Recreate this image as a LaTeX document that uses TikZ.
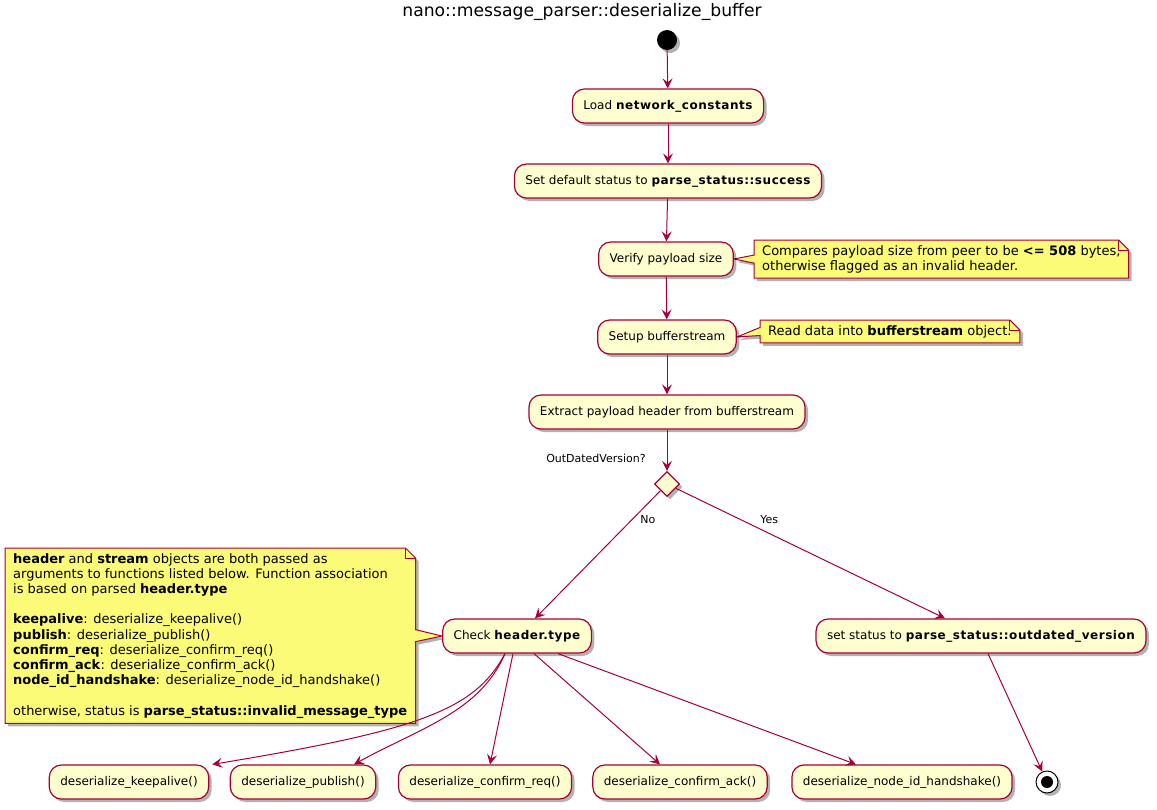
\documentclass[tikz,border=0pt]{standalone}
\usepackage{fontspec}
\setmainfont{DejaVu Sans}
\usetikzlibrary{shapes.geometric,shadows,arrows.meta,backgrounds}

\definecolor{umlred}{HTML}{A80036}
\definecolor{umlfill}{HTML}{FEFECE}
\definecolor{notefill}{HTML}{FBFB77}

% bold inside the step boxes runs a little wider
\newcommand{\stepbf}[1]{{\bfseries\addfontfeature{LetterSpace=4.5}#1}}

\tikzset{
  umlshadow/.style={drop shadow={shadow xshift=3pt, shadow yshift=-3pt, opacity=0.3, fill=black}},
  act/.style={draw=umlred, fill=umlfill, line width=1.2pt, rounded corners=12pt,
    minimum height=34pt, inner xsep=11pt, font=\fontsize{12}{14}\selectfont, umlshadow},
  notetext/.style={inner xsep=8pt, inner ysep=5pt, align=left, font=\fontsize{13}{15.2}\selectfont},
  noteline/.style={draw=umlred, fill=notefill, line width=1pt, umlshadow},
  fold/.style={draw=umlred, line width=1pt},
  flow/.style={draw=umlred, line width=1pt, -{Stealth[length=10pt, width=10pt, inset=4pt]}},
  lbl/.style={font=\fontsize{11}{13}\selectfont},
}

\begin{document}
\begin{tikzpicture}[x=1pt, y=-1pt]
      \useasboundingbox (0,0) rectangle (1157,809);

      % Title
      \node[font=\fontsize{17.2}{20}\selectfont] (title) at (582,12) {nano::message\_parser::deserialize\_buffer};

      % Start point and main steps
      \node[circle, fill=black, minimum size=20pt, inner sep=0pt, umlshadow] (start) at (667,40) {};
      \node[act] (load) at (668,106) {Load \stepbf{network\_constants}};
      \node[act] (dflt) at (668,181) {Set default status to \stepbf{parse\_status::success}};
      \node[act] (size) at (666,259) {Verify payload size};
      \node[act] (buf) at (667,337) {Setup bufferstream};
      \node[act] (hdr) at (667,412) {Extract payload header from bufferstream};

      % Decision
      \node[diamond, draw=umlred, fill=umlfill, line width=1.2pt, minimum size=25pt, inner sep=0pt, umlshadow] (dec) at (667,484) {};
      \node[lbl] (declbl) at (596,458) {OutDatedVersion?};

      \node[act] (chk) at (517,636) {Check \stepbf{header.type}};
      \node[act] (old) at (981,636) {set status to \stepbf{parse\_status::outdated\_version}};

      % Notes
      \node[notetext, anchor=north west] (n1) at (754,240) {Compares payload size from peer to be \textbf{<= 508} bytes,\\otherwise flagged as an invalid header.};
      \node[notetext, anchor=north west] (n2) at (760,320) {Read data into \textbf{bufferstream} object.};
      \node[notetext, anchor=north west] (n3) at (5,548) {\textbf{header} and \textbf{stream} objects are both passed as\\
        arguments to functions listed below. Function association\\
        is based on parsed \textbf{header.type}\\ ~\\
        \textbf{keepalive}: deserialize\_keepalive()\\
        \textbf{publish}: deserialize\_publish()\\
        \textbf{confirm\_req}: deserialize\_confirm\_req()\\
        \textbf{confirm\_ack}: deserialize\_confirm\_ack()\\
        \textbf{node\_id\_handshake}: deserialize\_node\_id\_handshake()\\ ~\\
        otherwise, status is \textbf{parse\_status::invalid\_message\_type}};

      \begin{scope}[on background layer]
      % Note outlines with pointer to their step
      \draw[noteline] (n1.north west) -- ([xshift=-10pt]n1.north east) -- ([yshift=-10pt]n1.north east) -- (n1.south east)
        -- (n1.south west) -- ([yshift=-4pt]n1.west) -- (size.east) -- ([yshift=4pt]n1.west) -- cycle;
      \draw[fold] ([xshift=-10pt]n1.north east) -- ([xshift=-10pt, yshift=-10pt]n1.north east) -- ([yshift=-10pt]n1.north east);
      \draw[noteline] (n2.north west) -- ([xshift=-10pt]n2.north east) -- ([yshift=-10pt]n2.north east) -- (n2.south east)
        -- (n2.south west) -- ([yshift=-4pt]n2.west) -- (buf.east) -- ([yshift=4pt]n2.west) -- cycle;
      \draw[fold] ([xshift=-10pt]n2.north east) -- ([xshift=-10pt, yshift=-10pt]n2.north east) -- ([yshift=-10pt]n2.north east);
      \draw[noteline] (n3.north west) -- ([xshift=-10pt]n3.north east) -- ([yshift=-10pt]n3.north east) -- ([yshift=6pt]n3.east)
        -- (chk.west) -- ([yshift=-6pt]n3.east) -- (n3.south east) -- (n3.south west) -- cycle;
      \draw[fold] ([xshift=-10pt]n3.north east) -- ([xshift=-10pt, yshift=-10pt]n3.north east) -- ([yshift=-10pt]n3.north east);
      \end{scope}

      % Deserialize calls
      \foreach \i/\x/\fn in {1/129/keepalive, 2/303/publish, 3/485/confirm\_req, 4/680/confirm\_ack, 5/902/node\_id\_handshake} {
          \node[act] (d\i) at (\x,782) {deserialize\_\fn()};
      }

      % End point
      \node[circle, draw=black, fill=white, line width=1pt, minimum size=22pt, inner sep=0pt, umlshadow] (stop) at (1047,782) {};
      \node[circle, fill=black, minimum size=12pt, inner sep=0pt] (stopdot) at (stop) {};

      % Main flow
      \draw[flow] (start) -- (load);
      \draw[flow] (load) -- (dflt);
      \draw[flow] (dflt) -- (size);
      \draw[flow] (size) -- (buf);
      \draw[flow] (buf) -- (hdr);
      \draw[flow] (hdr) -- (dec);
      \draw[flow] (dec) -- node[lbl, pos=0.23, right=5pt] {No} ([xshift=18pt]chk.north);
      \draw[flow] (dec) -- node[lbl, pos=0.3, above right] {Yes} ([xshift=-36pt]old.north);
      \draw[flow] ([xshift=7pt]old.south) -- (stop);

      % Calls from the header type check
      \draw[flow] ([xshift=-12pt]chk.south) .. controls (475,710) and (420,730) .. ([xshift=3pt]d1.north east);
      \draw[flow] ([xshift=-12pt]chk.south) .. controls (480,712) and (420,728) .. ([xshift=51pt]d2.north);
      \foreach \i/\dx/\ex in {3/-4/5, 4/17/-20, 5/41/-46} {
          \draw[flow] ([xshift=\dx pt]chk.south) -- ([xshift=\ex pt]d\i.north);
      }

\end{tikzpicture}
\end{document}
